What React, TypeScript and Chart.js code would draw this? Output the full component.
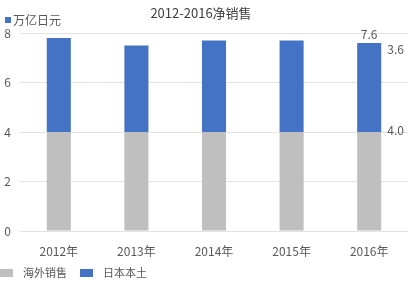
import React, { useEffect, useRef } from 'react';
import { Chart, registerables } from 'chart.js';

Chart.register(...registerables);

const categories = ['2012年', '2013年', '2014年', '2015年', '2016年'];
const overseasSales = [4.0, 4.0, 4.0, 4.0, 4.0];
const domesticSales = [3.8, 3.5, 3.7, 3.7, 3.6];
const seriesNames = ['海外销售', '日本本土'];
const titleText = '2012-2016净销售';
const unitText = '万亿日元';
const yMin = 0;
const yMax = 8;
const yStep = 2;

const GRAY = '#BFBFBF';
const BLUE = '#4472C4';
const TEXT = '#595959';
const FONT = '"Noto Sans CJK SC", "Noto Sans", sans-serif';

const decorPlugin = {
  id: 'decor',
  afterDraw(chart: any) {
    const ctx = chart.ctx;
    const x = chart.scales.x;
    const y = chart.scales.y;
    ctx.save();
    // title
    ctx.fillStyle = '#404040';
    ctx.font = `13px ${FONT}`;
    ctx.textAlign = 'center';
    ctx.textBaseline = 'middle';
    ctx.fillText(titleText, 201, 13);
    // unit label
    ctx.fillStyle = BLUE;
    ctx.fillRect(5, 17, 6, 6);
    ctx.fillStyle = TEXT;
    ctx.font = `12px ${FONT}`;
    ctx.textAlign = 'left';
    ctx.fillText(unitText, 13, 20);
    // data labels for last category
    const i = categories.length - 1;
    const meta1 = chart.getDatasetMeta(1).data[i];
    const total = overseasSales[i] + domesticSales[i];
    ctx.font = `12px ${FONT}`;
    ctx.textAlign = 'center';
    ctx.fillText(total.toFixed(1), x.getPixelForValue(i), y.getPixelForValue(total) - 8);
    ctx.textAlign = 'left';
    const right = meta1.x + meta1.width / 2 + 6;
    ctx.fillText(domesticSales[i].toFixed(1), right, y.getPixelForValue(total) + 7);
    ctx.fillText(overseasSales[i].toFixed(1), right, y.getPixelForValue(overseasSales[i]) - 2);
    // legend
    const colors = [GRAY, BLUE];
    const lx = [0, 80];
    ctx.font = `11px ${FONT}`;
    ctx.textBaseline = 'middle';
    for (let k = 0; k < 2; k++) {
      ctx.fillStyle = colors[k];
      ctx.fillRect(lx[k], 269, 13, 8);
      ctx.fillStyle = TEXT;
      ctx.fillText(seriesNames[k], lx[k] + 23, 273);
    }
    ctx.restore();
  },
};

export default function App() {
  const ref = useRef<HTMLCanvasElement>(null);
  useEffect(() => {
    document.body.style.margin = '0';
    const chart = new Chart(ref.current as HTMLCanvasElement, {
      type: 'bar',
      data: {
        labels: categories,
        datasets: [
          { label: seriesNames[0], data: overseasSales, backgroundColor: GRAY },
          { label: seriesNames[1], data: domesticSales, backgroundColor: BLUE },
        ],
      },
      options: {
        animation: false,
        responsive: false,
        layout: { padding: { top: 33, right: 8, left: 0, bottom: 0 } },
        plugins: { legend: { display: false }, title: { display: false }, tooltip: { enabled: false } },
        datasets: { bar: { categoryPercentage: 1, barPercentage: 0.31 } },
        scales: {
          x: {
            stacked: true,
            grid: { display: false },
            border: { display: false },
            ticks: { color: TEXT, font: { family: FONT, size: 12 }, padding: 5 },
            afterFit: (s: any) => { s.height = 55; },
          },
          y: {
            stacked: true,
            min: yMin,
            max: yMax,
            ticks: { stepSize: yStep, color: TEXT, font: { family: FONT, size: 12 }, padding: 9 },
            grid: { color: '#E3E3E3', drawTicks: false },
            border: { display: false },
            afterFit: (s: any) => { s.width = 20; },
          },
        },
      },
      plugins: [decorPlugin],
    });
    return () => chart.destroy();
  }, []);
  return (
    <div style={{ width: 416, height: 286 }}>
      <canvas ref={ref} width={416} height={286} style={{ display: 'block' }} />
    </div>
  );
}
